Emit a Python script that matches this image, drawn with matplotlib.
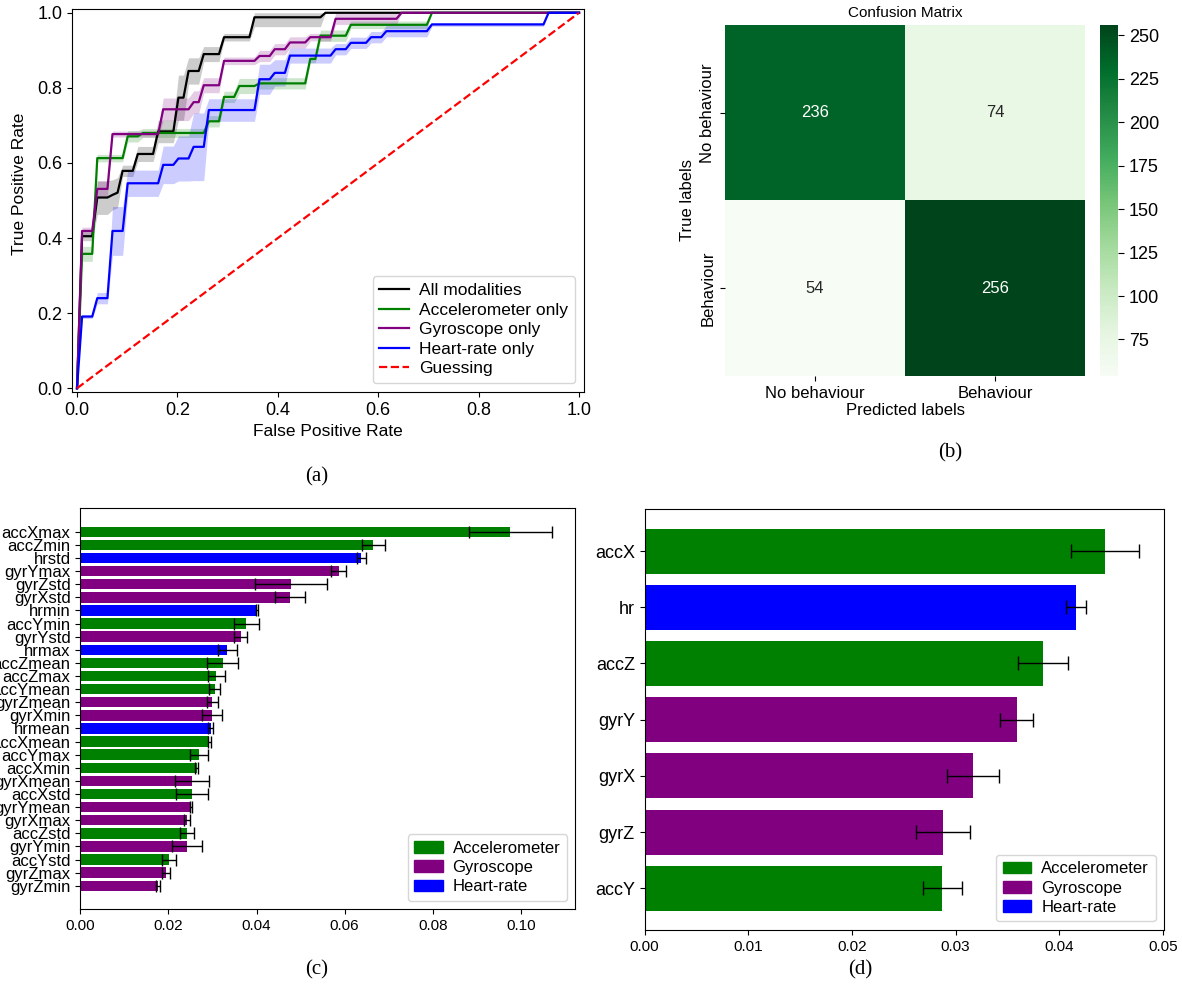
import numpy as np
import matplotlib
matplotlib.use("Agg")
import matplotlib.pyplot as plt
from matplotlib.patches import Patch
import seaborn as sns

plt.rcParams["font.family"] = ["Liberation Sans", "DejaVu Sans"]

# ── (a) ROC curves: step positions (FPR) and mean TPR level / std after each step ──
ALL_STEPS  = [0.01, 0.035, 0.065, 0.08, 0.09, 0.12, 0.16, 0.195, 0.22, 0.25, 0.29, 0.35, 0.485]
ALL_TPR    = [0.405, 0.508, 0.515, 0.521, 0.579, 0.624, 0.684, 0.774, 0.845, 0.89, 0.935, 0.988, 1.0]
ALL_STD    = [0.012, 0.045, 0.04, 0.04, 0.015, 0.02, 0.03, 0.06, 0.035, 0.02, 0.01, 0.025, 0.0]

ACC_STEPS  = [0.01, 0.04, 0.095, 0.13, 0.255, 0.29, 0.32, 0.36, 0.455, 0.48, 0.54, 0.70]
ACC_TPR    = [0.358, 0.613, 0.671, 0.68, 0.711, 0.776, 0.805, 0.812, 0.877, 0.939, 0.968, 1.0]
ACC_STD    = [0.02, 0.01, 0.015, 0.012, 0.015, 0.015, 0.02, 0.015, 0.01, 0.015, 0.01, 0.0]

GYR_STEPS  = [0.01, 0.035, 0.065, 0.165, 0.225, 0.25, 0.29, 0.355, 0.385, 0.42, 0.455, 0.515, 0.645]
GYR_TPR    = [0.419, 0.531, 0.677, 0.743, 0.762, 0.807, 0.872, 0.885, 0.903, 0.921, 0.935, 0.984, 1.0]
GYR_STD    = [0.01, 0.02, 0.008, 0.03, 0.03, 0.02, 0.01, 0.015, 0.015, 0.015, 0.01, 0.015, 0.0]

HR_STEPS   = [0.01, 0.035, 0.065, 0.095, 0.165, 0.195, 0.225, 0.255, 0.355, 0.385, 0.415,
              0.515, 0.545, 0.585, 0.615, 0.705, 0.935]
HR_TPR     = [0.191, 0.24, 0.419, 0.546, 0.595, 0.612, 0.643, 0.741, 0.823, 0.84, 0.886,
              0.903, 0.92, 0.935, 0.951, 0.969, 1.0]
HR_STD     = [0.005, 0.015, 0.065, 0.035, 0.05, 0.06, 0.09, 0.03, 0.04, 0.035, 0.02,
              0.015, 0.015, 0.015, 0.015, 0.005, 0.0]

ROC_SERIES = [
    ("All modalities",     "black",  ALL_STEPS, ALL_TPR, ALL_STD),
    ("Accelerometer only", "green",  ACC_STEPS, ACC_TPR, ACC_STD),
    ("Gyroscope only",     "purple", GYR_STEPS, GYR_TPR, GYR_STD),
    ("Heart-rate only",    "blue",   HR_STEPS,  HR_TPR,  HR_STD),
]

# ── (b) confusion matrix ──
CM_LABELS = ["No behaviour", "Behaviour"]
CM = np.array([[236, 74],
               [54, 256]])

# ── (c) feature importances ──
FEATURES = ["accXmax", "accZmin", "hrstd", "gyrYmax", "gyrZstd", "gyrXstd", "hrmin",
            "accYmin", "gyrYstd", "hrmax", "accZmean", "accZmax", "accYmean", "gyrZmean",
            "gyrXmin", "hrmean", "accXmean", "accYmax", "accXmin", "gyrXmean", "accXstd",
            "gyrYmean", "gyrXmax", "accZstd", "gyrYmin", "accYstd", "gyrZmax", "gyrZmin"]
FEAT_IMP = [0.0976, 0.0665, 0.0638, 0.0587, 0.0478, 0.0476, 0.0401,
            0.0377, 0.0364, 0.0334, 0.0323, 0.0309, 0.0305, 0.0300,
            0.0299, 0.0296, 0.0293, 0.0269, 0.0264, 0.0253, 0.0253,
            0.0251, 0.0243, 0.0242, 0.0242, 0.0201, 0.0194, 0.0176]
FEAT_STD = [0.0094, 0.0026, 0.0010, 0.0017, 0.0082, 0.0034, 0.0002,
            0.0029, 0.0014, 0.0021, 0.0035, 0.0020, 0.0012, 0.0012,
            0.0022, 0.0006, 0.0003, 0.0021, 0.0003, 0.0039, 0.0036,
            0.0002, 0.0007, 0.0016, 0.0034, 0.0016, 0.0009, 0.0004]

# ── (d) per-channel importances ──
CHANNELS = ["accX", "hr", "accZ", "gyrY", "gyrX", "gyrZ", "accY"]
CHAN_IMP = [0.0444, 0.0416, 0.0384, 0.0359, 0.0317, 0.0288, 0.0287]
CHAN_STD = [0.0033, 0.0010, 0.0024, 0.0016, 0.0025, 0.0026, 0.0019]

SENSOR_COLORS = {"acc": "green", "gyr": "purple", "hr": "blue"}
SENSOR_NAMES = ["Accelerometer", "Gyroscope", "Heart-rate"]


def sensor_color(name):
    for k, c in SENSOR_COLORS.items():
        if name.startswith(k):
            return c
    return "grey"


def staircase(grid, steps, levels):
    idx = np.searchsorted(steps, grid, side="right") - 1
    out = np.where(idx >= 0, np.asarray(levels)[np.clip(idx, 0, None)], 0.0)
    out[0] = 0.0
    return out


LEG_KW = dict(labelspacing=0.25, handlelength=1.7, handletextpad=0.6, borderpad=0.4)

fig = plt.figure(figsize=(11.82, 9.92), dpi=100)

# ── panel (a) ────────────────────────────────────────────────────────────────
axa = fig.add_axes([0.0609, 0.6048, 0.4332, 0.3861])
grid = np.linspace(0, 1, 100)
for label, col, steps, tpr, std in ROC_SERIES:
    mean_tpr = staircase(grid, steps, tpr)
    std_tpr = staircase(grid, steps, std)
    axa.plot(grid, mean_tpr, color=col, lw=1.6, label=label)
    axa.fill_between(grid, np.maximum(mean_tpr - std_tpr, 0),
                     np.minimum(mean_tpr + std_tpr, 1),
                     color=col, alpha=0.2, lw=0)
axa.plot([0, 1], [0, 1], "r--", lw=1.6, label="Guessing")
axa.set_xlim(-0.01, 1.01)
axa.set_ylim(-0.01, 1.01)
axa.set_xlabel("False Positive Rate", fontsize=12.5)
axa.set_ylabel("True Positive Rate", fontsize=12.5)
axa.yaxis.set_label_coords(-0.087, 0.543)
axa.tick_params(labelsize=13)
axa.legend(loc="lower right", fontsize=12.5, **LEG_KW)

# ── panel (b) ────────────────────────────────────────────────────────────────
axb = fig.add_axes([0.6134, 0.6210, 0.3046, 0.3538])
cax = fig.add_axes([0.9306, 0.6210, 0.0152, 0.3538])
sns.heatmap(CM, annot=True, fmt="d", cmap="Greens", ax=axb, cbar_ax=cax,
            annot_kws={"fontsize": 12})
axb.set_title("Confusion Matrix", fontsize=11)
axb.set_xlabel("Predicted labels", fontsize=12, labelpad=2)
axb.set_ylabel("True labels", fontsize=12)
axb.set_xticklabels(CM_LABELS, fontsize=12)
axb.set_yticklabels(CM_LABELS, fontsize=12, rotation=90, va="center")
cax.tick_params(labelsize=13, length=4, pad=4)

# ── panel (c) ────────────────────────────────────────────────────────────────
handles = [Patch(color=SENSOR_COLORS[k], label=l) for k, l in zip(SENSOR_COLORS, SENSOR_NAMES)]

axc = fig.add_axes([0.0679, 0.0834, 0.4188, 0.4042])
n = len(FEATURES)
ypos = np.arange(n)[::-1]
axc.barh(ypos, FEAT_IMP, xerr=FEAT_STD, color=[sensor_color(f) for f in FEATURES],
         height=0.8, capsize=4, error_kw={"elinewidth": 1})
axc.set_yticks(ypos)
axc.set_yticklabels(FEATURES, fontsize=12)
axc.tick_params(axis="x", labelsize=11)
axc.legend(handles=handles, loc="lower right", fontsize=12, **LEG_KW)

# ── panel (d) ────────────────────────────────────────────────────────────────
axd = fig.add_axes([0.5454, 0.0627, 0.4393, 0.4237])
m = len(CHANNELS)
ypos_d = np.arange(m)[::-1]
axd.barh(ypos_d, CHAN_IMP, xerr=CHAN_STD, color=[sensor_color(c) for c in CHANNELS],
         height=0.8, capsize=5, error_kw={"elinewidth": 1})
axd.set_yticks(ypos_d)
axd.set_yticklabels(CHANNELS, fontsize=13)
axd.tick_params(axis="x", labelsize=11)
axd.legend(handles=handles, loc="lower right", fontsize=12, **LEG_KW)

# ── captions ─────────────────────────────────────────────────────────────────
cap_kw = dict(ha="center", va="center", fontsize=15, family=["Liberation Serif", "DejaVu Serif"])
fig.text(317 / 1182, 1 - 477 / 992, "(a)", **cap_kw)
fig.text(950 / 1182, 1 - 453 / 992, "(b)", **cap_kw)
fig.text(317 / 1182, 1 - 970 / 992, "(c)", **cap_kw)
fig.text(860 / 1182, 1 - 970 / 992, "(d)", **cap_kw)

fig.savefig("out.png", dpi=100)
